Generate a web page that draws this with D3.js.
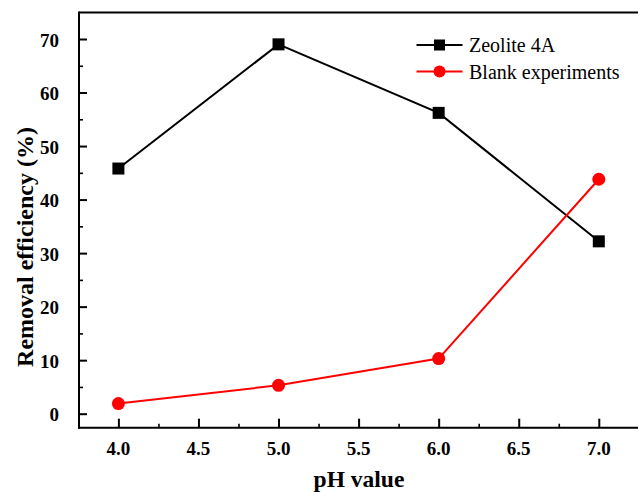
<!DOCTYPE html>
<html>
<head>
<meta charset="utf-8">
<script src="https://cdn.jsdelivr.net/npm/d3@7/dist/d3.min.js"></script>
<style>
  html, body { margin: 0; padding: 0; background: #fff; }
  svg { display: block; }
  text { font-family: "Liberation Serif", "Times New Roman", serif; }
</style>
</head>
<body>
<svg id="chart" width="638" height="492"></svg>
<script>
const phValues = [4.0, 5.0, 6.0, 7.0];
const zeolite = [45.8, 69.0, 56.2, 32.2];
const blank = [1.9, 5.3, 10.3, 43.8];
const seriesNames = ["Zeolite 4A", "Blank experiments"];
const xTicks = [4.0, 4.5, 5.0, 5.5, 6.0, 6.5, 7.0];
const yTicks = [0, 10, 20, 30, 40, 50, 60, 70];

(function () {
const svg = d3.select("#chart");
const W = 638;
const plotLeft = 79, plotTop = 12.5, plotBottom = 427.7;
const FONT = "Liberation Serif";

const x = d3.scaleLinear().domain([3.754, 7.0]).range([plotLeft, 598.8]);
const y = d3.scaleLinear().domain([0, 70]).range([413.7, 39]);

// frame top
svg.append("line").attr("x1", plotLeft).attr("x2", W + 2).attr("y1", plotTop).attr("y2", plotTop)
  .attr("stroke", "#000").attr("stroke-width", 2);

// y axis
const gy = svg.append("g").attr("transform", `translate(${plotLeft},0)`)
  .call(d3.axisRight(y).tickValues(yTicks).tickSize(8).tickFormat(""));
gy.select(".domain").remove();
gy.selectAll("line").attr("stroke-width", 2);
const yMinor = d3.range(5, 75, 10);
const gym = svg.append("g").attr("transform", `translate(${plotLeft},0)`)
  .call(d3.axisRight(y).tickValues(yMinor).tickSize(4).tickFormat(""));
gym.select(".domain").remove();
gym.selectAll("line").attr("stroke-width", 1.6);
svg.append("line").attr("x1", plotLeft).attr("x2", plotLeft).attr("y1", plotTop - 1).attr("y2", plotBottom + 1)
  .attr("stroke", "#000").attr("stroke-width", 2);
svg.selectAll(".ylab").data(yTicks).join("text")
  .attr("x", 59).attr("y", d => y(d) + 7.5)
  .attr("text-anchor", "end").attr("font-family", FONT).attr("font-size", 19).attr("font-weight", "bold")
  .text(d => d);

// x axis
const gx = svg.append("g").attr("transform", `translate(0,${plotBottom})`)
  .call(d3.axisTop(x).tickValues(xTicks).tickSize(9).tickFormat(""));
gx.select(".domain").remove();
gx.selectAll("line").attr("stroke-width", 2);
const xMinor = d3.range(4.25, 7.3, 0.5);
const gxm = svg.append("g").attr("transform", `translate(0,${plotBottom})`)
  .call(d3.axisTop(x).tickValues(xMinor).tickSize(4).tickFormat(""));
gxm.select(".domain").remove();
gxm.selectAll("line").attr("stroke-width", 1.6);
svg.append("line").attr("x1", plotLeft - 1).attr("x2", W + 2).attr("y1", plotBottom).attr("y2", plotBottom)
  .attr("stroke", "#000").attr("stroke-width", 2);
svg.selectAll(".xlab").data(xTicks).join("text")
  .attr("x", d => x(d)).attr("y", 455)
  .attr("text-anchor", "middle").attr("font-family", FONT).attr("font-size", 19).attr("font-weight", "bold")
  .text(d => d.toFixed(1));

// axis titles
svg.append("text").attr("x", 359).attr("y", 486.5)
  .attr("text-anchor", "middle").attr("font-family", FONT).attr("font-size", 23.5).attr("font-weight", "bold")
  .text("pH value");
svg.append("text").attr("transform", "translate(33,247) rotate(-90)")
  .attr("text-anchor", "middle").attr("font-family", FONT).attr("font-size", 24).attr("font-weight", "bold")
  .text("Removal efficiency (%)");

// series
const line = d3.line().x(d => x(d[0])).y(d => y(d[1]));
const zData = phValues.map((p, i) => [p, zeolite[i]]);
const bData = phValues.map((p, i) => [p, blank[i]]);

svg.append("path").datum(zData).attr("d", line).attr("fill", "none")
  .attr("stroke", "#000").attr("stroke-width", 2);
svg.append("path").datum(bData).attr("d", line).attr("fill", "none")
  .attr("stroke", "#ff0000").attr("stroke-width", 2);

svg.selectAll(".sq").data(zData).join("rect")
  .attr("x", d => x(d[0]) - 6).attr("y", d => y(d[1]) - 6)
  .attr("width", 12).attr("height", 12).attr("fill", "#000");
svg.selectAll(".ci").data(bData).join("circle")
  .attr("cx", d => x(d[0])).attr("cy", d => y(d[1])).attr("r", 6.5)
  .attr("fill", "#ff0000");

// legend
const lg = svg.append("g");
lg.append("line").attr("x1", 416.5).attr("x2", 462.5).attr("y1", 45).attr("y2", 45)
  .attr("stroke", "#000").attr("stroke-width", 2);
lg.append("rect").attr("x", 439.5 - 5.5).attr("y", 45 - 5.5).attr("width", 11).attr("height", 11).attr("fill", "#000");
lg.append("text").attr("x", 469).attr("y", 52).attr("font-family", FONT).attr("font-size", 20).text(seriesNames[0]);
lg.append("line").attr("x1", 416.5).attr("x2", 462.5).attr("y1", 71.5).attr("y2", 71.5)
  .attr("stroke", "#ff0000").attr("stroke-width", 2);
lg.append("circle").attr("cx", 439.5).attr("cy", 71.5).attr("r", 6).attr("fill", "#ff0000");
lg.append("text").attr("x", 469).attr("y", 78.5).attr("font-family", FONT).attr("font-size", 20).text(seriesNames[1]);
})();
</script>
</body>
</html>
